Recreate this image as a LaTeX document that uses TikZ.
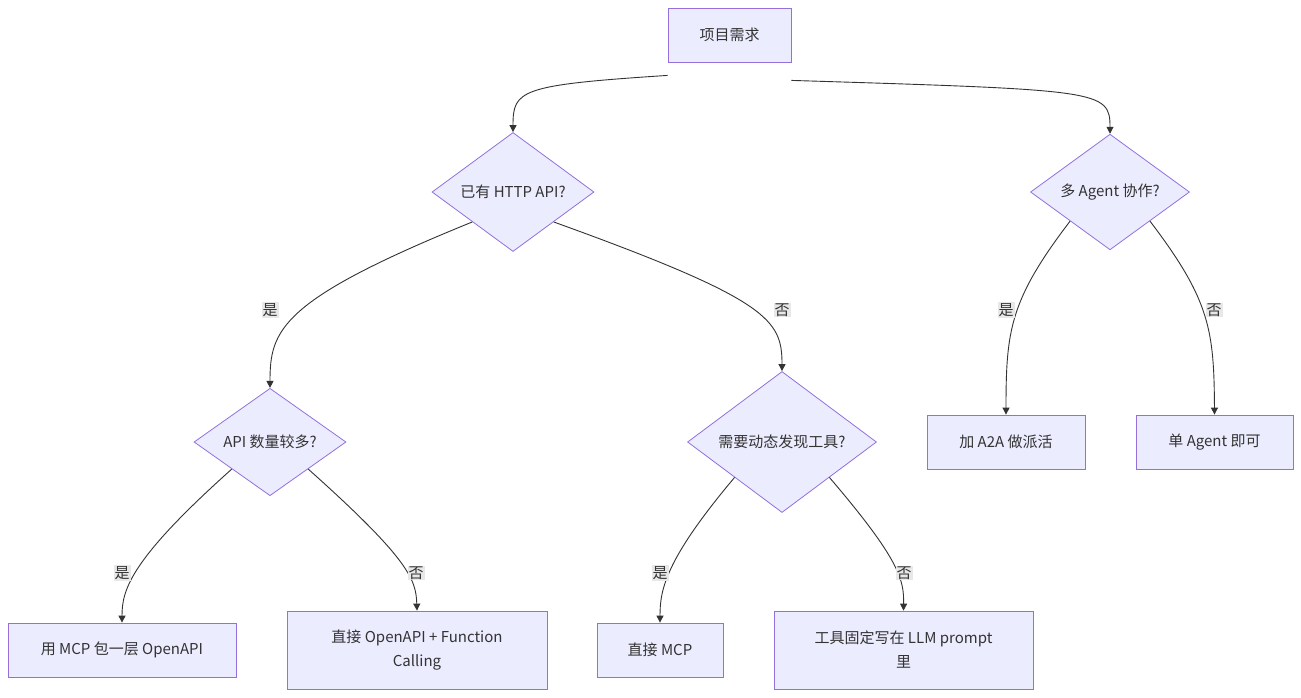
\documentclass[tikz,border=0pt]{standalone}
\usepackage{fontspec}
\setmainfont{Noto Sans CJK SC}
\usetikzlibrary{shapes.geometric,arrows.meta}
\definecolor{nf}{HTML}{ECECFF}
\definecolor{ns}{HTML}{9370DB}
\definecolor{ln}{HTML}{333333}
\definecolor{lb}{HTML}{E8E8E8}
\begin{document}
\begin{tikzpicture}[x=1pt,y=-1pt,
 box/.style={draw=ns,fill=nf,line width=0.8pt,inner sep=0,align=center,font=\fontsize{15}{24}\selectfont,text=ln},
 dia/.style={box,diamond,aspect=1},
 e/.style={draw=ln,line width=0.9pt,-{Triangle[length=7pt,width=7pt]}},
 lab/.style={fill=lb,inner sep=1pt,font=\fontsize{15}{18}\selectfont,text=ln}]
\useasboundingbox[fill=white] (0,0) rectangle (1301,697);
\node[box,minimum width=123,minimum height=54] (n0) at (729.5,35) {项目需求};
\node[dia,minimum width=162] (d1) at (513,192) {已有 HTTP API?};
\node[dia,minimum width=159] (d2) at (1110,192) {多 Agent 协作?};
\node[dia,minimum width=152] (d3) at (270,442) {API 数量较多?};
\node[dia,minimum width=189] (d4) at (782,442) {需要动态发现工具?};
\node[box,minimum width=158,minimum height=54] (r1) at (1006,442) {加 A2A 做派活};
\node[box,minimum width=157,minimum height=54] (r2) at (1214.5,442) {单 Agent 即可};
\node[box,minimum width=228,minimum height=54] (r3) at (122,650) {用 MCP 包一层 OpenAPI};
\node[box,minimum width=260,minimum height=78] (r4) at (417,650) {直接 OpenAPI + Function\\Calling};
\node[box,minimum width=126,minimum height=54] (r5) at (660,650) {直接 MCP};
\node[box,minimum width=259,minimum height=78] (r6) at (903.5,650) {工具固定写在 LLM prompt\\里};
\draw[e] ([yshift=-13]n0.south west) .. controls (520,85) and (513,90) .. (d1.north);
\draw[e] ([yshift=-18]n0.south east) .. controls (1100,90) and (1110,90) .. (d2.north);
\draw[e] (d1.south west) .. controls (280,300) and (270,330) .. (d3.north);
\draw[e] (d1.south east) .. controls (770,300) and (782,320) .. (d4.north);
\draw[e] (d2.south west) .. controls (1010,300) and (1006,330) .. (r1.north);
\draw[e] (d2.south east) .. controls (1210,300) and (1214,330) .. (r2.north);
\draw[e] (d3.south west) .. controls (130,560) and (122,590) .. (r3.north);
\draw[e] (d3.south east) .. controls (410,560) and (416,580) .. (r4.north);
\draw[e] (d4.south west) .. controls (665,560) and (660,590) .. (r5.north);
\draw[e] (d4.south east) .. controls (900,560) and (904,580) .. (r6.north);
\node[lab] (l1) at (270,310) {是};
\node[lab] (l2) at (782,310) {否};
\node[lab] (l3) at (1006,310) {是};
\node[lab] (l4) at (1214,310) {否};
\node[lab] (l5) at (122,573) {是};
\node[lab] (l6) at (416,573) {否};
\node[lab] (l7) at (660,573) {是};
\node[lab] (l8) at (904,573) {否};
\end{tikzpicture}
\end{document}
